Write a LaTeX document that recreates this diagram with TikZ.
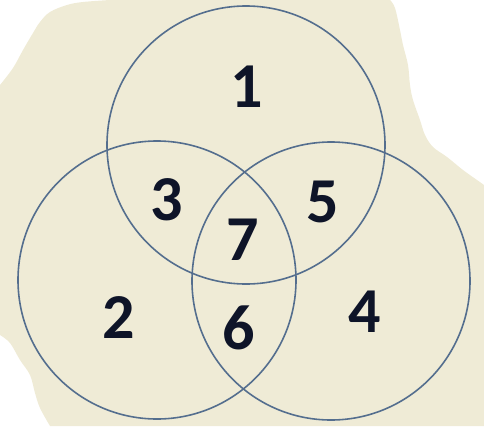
\documentclass[tikz,border=0pt]{standalone}
\usepackage{fontspec}
\setmainfont{Carlito}
\definecolor{bgbeige}{RGB}{239,235,214}
\definecolor{ringblue}{RGB}{84,110,142}
\definecolor{numink}{RGB}{14,20,40}
\begin{document}
\begin{tikzpicture}[x=1pt,y=-1pt,
  ring/.style={draw=ringblue,line width=1.6pt},
  num/.style={text=numink,inner sep=0pt,font=\fontsize{64}{64}\selectfont\bfseries}]
\useasboundingbox (0,0) rectangle (484,426);
% background blob
\fill[bgbeige] (0,85) -- plot[smooth,tension=0.6] coordinates {
  (0,85) (13,68) (23,50) (33,33) (40,22) (50,12) (67,5) (83,2) (110,0)}
  -- (390,0)
  -- plot[smooth,tension=0.6] coordinates {
  (390,0) (395,8) (400,30) (403,45) (408,65) (410,85) (413,100) (420,120)
  (425,135) (433,147) (447,157) (463,170) (477,180) (484,185)}
  -- (484,426) -- (50,426)
  -- plot[smooth,tension=0.6] coordinates {
  (50,426) (40,408) (35,393) (30,375) (20,360) (10,343) (0,335)}
  -- cycle;
% circles
\draw[ring] (246,145) circle[radius=139pt];
\draw[ring] (157,280) circle[radius=139pt];
\draw[ring] (331,281) circle[radius=139pt];
% numbers
\node[num] (n1) at (247,87) {1};
\node[num] (n3) at (167,200) {3};
\node[num] (n5) at (323,202) {5};
\node[num] (n7) at (243,240) {7};
\node[num] (n2) at (119,318) {2};
\node[num] (n6) at (239,328) {6};
\node[num] (n4) at (365,312) {4};
\end{tikzpicture}
\end{document}
